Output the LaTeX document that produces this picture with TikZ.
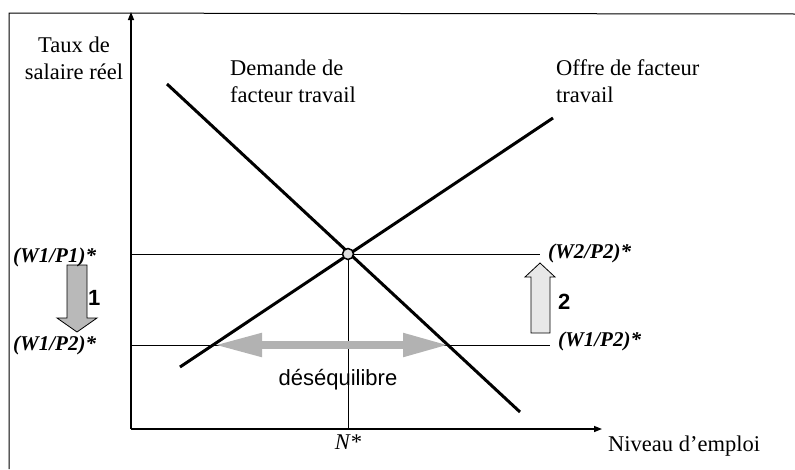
\documentclass[tikz,border=0pt]{standalone}
\usepackage{fontspec}
\setmainfont{Liberation Serif}
\setsansfont{Liberation Sans}
\usetikzlibrary{arrows.meta}
\begin{document}
\begin{tikzpicture}[x=1pt,y=-1pt,
  serif/.style={font=\fontsize{22.5}{27}\selectfont, inner sep=0pt},
  wlab/.style={font=\fontsize{21}{25}\selectfont\bfseries\itshape, inner sep=0pt, anchor=base west},
  num/.style={font=\fontsize{22}{26}\selectfont\sffamily\bfseries, inner sep=0pt, anchor=base west},
  axis/.style={line width=1.4pt, -{Triangle[length=8pt,width=6pt]}},
  curve/.style={line width=3pt},
  guide/.style={line width=0.8pt},
  frameline/.style={line width=1pt},
  blockarrow/.style={draw=black, line width=0.8pt}]
\useasboundingbox (0,0) rectangle (795,469);
% frame
\coordinate (fBL) at (9,469);
\coordinate (fTL) at (9,13);
\coordinate (fTR) at (795,14);
\draw[frameline] (fBL) -- (fTL) -- (fTR);
% axes
\coordinate (O) at (131,429);
\coordinate (Ytop) at (131,12);
\coordinate (Xend) at (602,429);
% guides
\coordinate (h1L) at (131,254);
\coordinate (h1R) at (540,254);
\coordinate (h2L) at (131,345);
\coordinate (h2R) at (550,345);
\coordinate (Nbot) at (348,429);
\coordinate (Eq) at (348,254);
\draw[guide] (h1L) -- (h1R);
\draw[guide] (h2L) -- (h2R);
\draw[guide] (Eq) -- (Nbot);
\draw[axis] (O) -- (Ytop);
\draw[axis] (O) -- (Xend);
% curves
\coordinate (D1) at (167,84);
\coordinate (D2) at (520,412);
\coordinate (S1) at (180,367);
\coordinate (S2) at (553,118);
\draw[curve] (D1) -- (D2);
\draw[curve] (S1) -- (S2);
% equilibrium
\node[circle, draw, line width=1.5pt, fill=gray!25, minimum size=11pt, inner sep=0pt] (E) at (Eq) {};
% desequilibre double arrow
\coordinate (dL) at (214,345);
\coordinate (dR) at (449,345);
\draw[gray!60, line width=8pt, {Triangle[length=48pt,width=22pt]}-{Triangle[length=46pt,width=22pt]}] (dL) -- (dR);
% block arrow 1 (down)
\filldraw[blockarrow, fill=gray!55] (67,265) -- (87,265) -- (87,318) -- (97,318) -- (77,332) -- (57,318) -- (67,318) -- cycle;
% block arrow 2 (up)
\filldraw[blockarrow, fill=gray!18] (531,333) -- (550,333) -- (550,277) -- (555,277) -- (540,263) -- (525,277) -- (531,277) -- cycle;
% texts
\node[serif, align=center, anchor=north] (ylab) at (74,36.6) {Taux de\\salaire réel};
\node[serif, align=left, anchor=north west] (dem) at (230,59.6) {Demande de\\facteur travail};
\node[serif, align=left, anchor=north west] (off) at (556,59.6) {Offre de facteur\\travail};
\node[serif, anchor=base west] (xlab) at (608,451) {Niveau d’emploi};
\node[serif, anchor=base, font=\fontsize{22.5}{27}\selectfont\itshape] (Nstar) at (348,449) {N*};
\node[wlab] (w11) at (13,262) {(W1/P1)*};
\node[wlab] (w12L) at (13,350) {(W1/P2)*};
\node[wlab] (w22) at (548,258) {(W2/P2)*};
\node[wlab] (w12R) at (558,346) {(W1/P2)*};
\node[num] (n1) at (88,305) {1};
\node[num] (n2) at (558,309) {2};
\node[inner sep=0pt, anchor=base, font=\fontsize{22}{26}\selectfont\sffamily] (deseq) at (338,385) {déséquilibre};
\end{tikzpicture}
\end{document}
